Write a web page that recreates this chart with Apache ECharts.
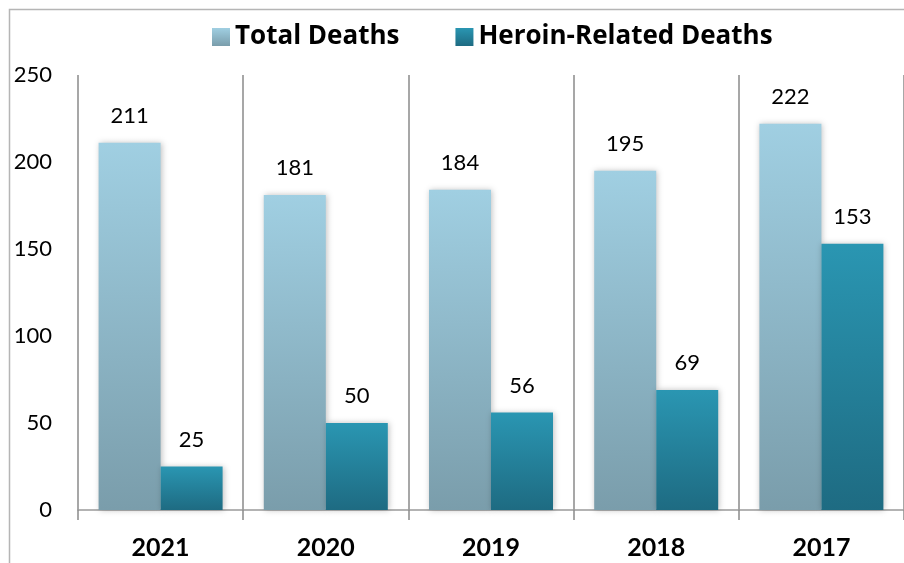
<!DOCTYPE html>
<html><head><meta charset="utf-8">
<script src="https://cdn.jsdelivr.net/npm/echarts@6/dist/echarts.min.js"></script>
<style>html,body{margin:0;padding:0;background:#fff}#c{width:904px;height:563px}</style>
</head><body><div id="c"></div>
<script>
const categories = ['2021', '2020', '2019', '2018', '2017'];
const totalDeaths = [211, 181, 184, 195, 222];
const heroinDeaths = [25, 50, 56, 69, 153];
const seriesNames = ['Total Deaths', 'Heroin-Related Deaths'];

const FONT = 'Lato';
const chart = echarts.init(document.getElementById('c'), null, {renderer: 'canvas'});
const grad = (a, b) => new echarts.graphic.LinearGradient(0, 0, 0, 1, [{offset: 0, color: a}, {offset: 1, color: b}]);
chart.setOption({
  animation: false,
  backgroundColor: '#fff',
  graphic: [{type: 'rect', shape: {x: 9.5, y: 9.5, width: 1000, height: 1000}, style: {fill: 'none', stroke: '#b5b5b5', lineWidth: 1.5}, z: 100}],
  legend: {
    top: 19, left: 207,
    itemWidth: 18, itemHeight: 18, itemGap: 56,
    icon: 'rect',
    textStyle: {fontFamily: 'Open Sans', fontWeight: 'bold', fontSize: 26, color: '#000'},
    data: seriesNames
  },
  grid: {left: 78, top: 75, width: 830, bottom: 53, containLabel: false},
  xAxis: {
    type: 'category', data: categories,
    axisLine: {show: true, lineStyle: {color: '#9a9a9a', width: 1.5}},
    axisTick: {show: true, length: 10, lineStyle: {color: '#8a8a8a', width: 1.5}},
    splitLine: {show: true, lineStyle: {color: '#8a8a8a', width: 1.5}},
    axisLabel: {fontFamily: FONT, fontWeight: 'bold', fontSize: 25, color: '#000', margin: 25}
  },
  yAxis: {
    type: 'value', min: 0, max: 250, interval: 50,
    axisLine: {show: false}, axisTick: {show: false}, splitLine: {show: false},
    axisLabel: {fontFamily: FONT, fontSize: 22, color: '#000', margin: 26}
  },
  series: [
    {name: seriesNames[0], type: 'bar', data: totalDeaths, barWidth: 62, barGap: '0%',
     itemStyle: {color: grad('#a0cfe2', '#7a9dab'), shadowColor: 'rgba(0,0,0,0.25)', shadowBlur: 6, shadowOffsetX: 1},
     label: {show: true, position: 'top', distance: 16, fontFamily: FONT, fontSize: 22, color: '#000'}},
    {name: seriesNames[1], type: 'bar', data: heroinDeaths, barWidth: 62,
     itemStyle: {color: grad('#2a96b2', '#1e6b82'), shadowColor: 'rgba(0,0,0,0.25)', shadowBlur: 6, shadowOffsetX: 1},
     label: {show: true, position: 'top', distance: 16, fontFamily: FONT, fontSize: 22, color: '#000'}}
  ]
});
</script></body></html>
